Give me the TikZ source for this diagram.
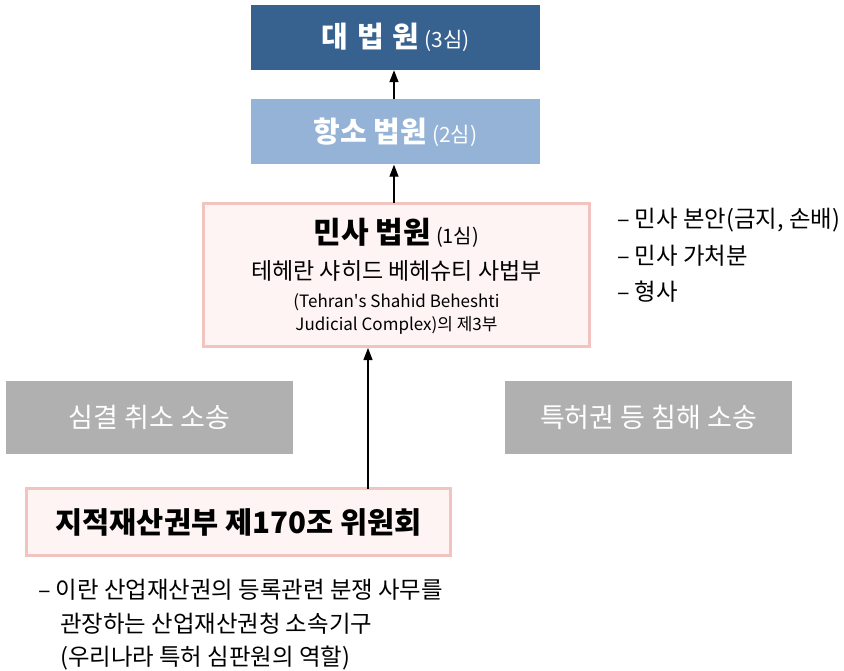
\documentclass[tikz,border=0pt]{standalone}
\usepackage{fontspec}
\setmainfont{Noto Sans CJK KR}
\usetikzlibrary{arrows.meta}
\definecolor{supblue}{HTML}{37618F}
\definecolor{appblue}{HTML}{95B3D7}
\definecolor{pinkfill}{HTML}{FDF4F3}
\definecolor{pinkline}{HTML}{F2C4C0}
\definecolor{graybox}{HTML}{B0B0B0}
\newcommand{\fs}[1]{\fontsize{#1}{#1}\selectfont}
\tikzset{
  bluebox/.style={draw=none, minimum width=289pt, minimum height=65pt, inner sep=0pt, text=white},
  pinkbox/.style={draw=pinkline, line width=3pt, fill=pinkfill, inner sep=0pt},
  graybx/.style={fill=graybox, minimum width=287pt, minimum height=73pt, inner sep=0pt, text=white},
  arr/.style={line width=1.3pt, -{Triangle[length=12pt,width=9pt]}},
  txt/.style={inner sep=0pt, anchor=west}
}
\begin{document}
\begin{tikzpicture}[x=1pt,y=-1pt]
\useasboundingbox[fill=white] (0,0) rectangle (844,671);
% top courts
\node[bluebox, fill=supblue] (sup) at (395.5,37.5) {{\fs{29}\bfseries 대\hspace{9pt}법\hspace{9pt}원}\hspace{5pt}{\fs{21}(3심)}};
\node[bluebox, fill=appblue] (app) at (395.5,132) {{\fs{29}\bfseries 항소 법원}\hspace{5pt}{\fs{21}(2심)}};
% civil court
\node[pinkbox, minimum width=386pt, minimum height=143pt] (civ) at (396.5,275) {};
\node[inner sep=0pt] (civt) at (396.5,233) {{\fs{30}\bfseries 민사 법원}\hspace{5pt}{\fs{20}(1심)}};
\node[inner sep=0pt] (civa) at (396.5,271) {\fs{23}테헤란 샤히드 베헤슈티 사법부};
\node[inner sep=0pt] (civb) at (396.5,302) {\fs{17}(Tehran\textquotesingle s Shahid Beheshti};
\node[inner sep=0pt] (civc) at (396.5,325) {\fs{17}Judicial Complex)의 제3부};
% side list
\node[txt] (s1) at (617,220) {\fs{23.4}– 민사 본안(금지, 손배)};
\node[txt] (s2) at (617,256) {\fs{23.4}– 민사 가처분};
\node[txt] (s3) at (617,292) {\fs{23.4}– 형사};
% gray boxes
\node[graybx] (rev) at (149.5,417.5) {\fs{27}심결 취소 소송};
\node[graybx] (inf) at (648.5,417.5) {\fs{27}특허권 등 침해 소송};
% IP committee
\node[pinkbox, minimum width=424pt, minimum height=67pt] (ipc) at (238.5,522) {\fs{29.5}\bfseries 지적재산권부 제170조 위원회};
% bottom text
\node[txt] (b1) at (38,590) {\fs{23.4}– 이란 산업재산권의 등록관련 분쟁 사무를};
\node[txt] (b2) at (60,624) {\fs{23.4}관장하는 산업재산권청 소속기구};
\node[txt] (b3) at (60,658) {\fs{23.4}(우리나라 특허 심판원의 역할)};
% arrows
\draw[arr] ([xshift=-1.5pt]app.north) -- ([xshift=-1.5pt]sup.south);
\draw[arr] ([xshift=-2.5pt,yshift=-1.5pt]civ.north) -- ([xshift=-2.5pt]app.south -| civ.north);
\draw[arr] ([xshift=129.5pt,yshift=-1.5pt]ipc.north) coordinate (ia) -- (ia |- civ.south);
\end{tikzpicture}
\end{document}
